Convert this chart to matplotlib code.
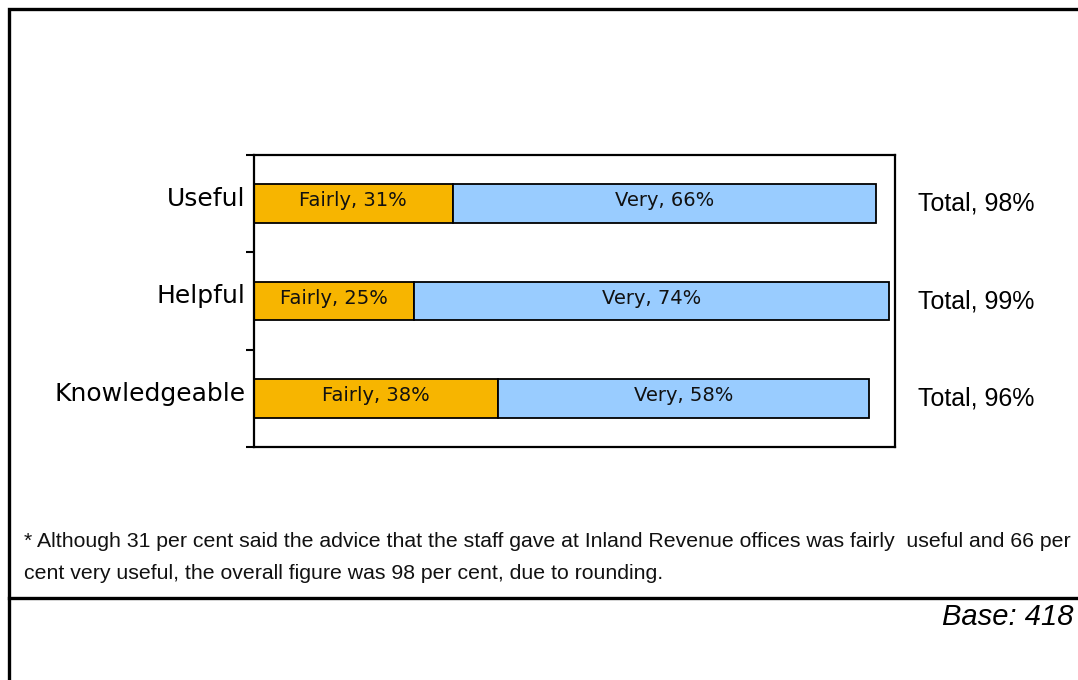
import numpy as np
import matplotlib
matplotlib.use('Agg')
from matplotlib import pyplot as plt
from matplotlib import transforms
from matplotlib.patches import Rectangle
from matplotlib.lines import Line2D

# data
categories = ['Useful', 'Helpful', 'Knowledgeable']
fairly = [31, 25, 38]
very = [66, 74, 58]
totals = [98, 99, 96]
footnote = ('* Although 31 per cent said the advice that the staff gave at Inland Revenue offices was fairly  useful and 66 per\n'
            'cent very useful, the overall figure was 98 per cent, due to rounding.')
base_note = 'Base: 418'

orange = '#F7B500'
blue = '#99CCFF'

fig = plt.figure(figsize=(10.78, 6.8), dpi=100)
W, H = 1078.0, 680.0
ax = fig.add_axes([254 / W, 1 - 447 / H, (895 - 254) / W, (447 - 155) / H])

y = np.arange(len(categories))
ax.barh(y, fairly, height=0.4, color=orange, edgecolor='black', linewidth=1.3)
ax.barh(y, very, left=fairly, height=0.4, color=blue, edgecolor='black', linewidth=1.3)

# small upward nudge for labels, as in the reference
up3 = ax.transData + transforms.ScaledTranslation(0, 3 / 100.0, fig.dpi_scale_trans)
for i in range(len(categories)):
    ax.text(fairly[i] / 2.0, y[i], 'Fairly, %d%%' % fairly[i], ha='center', va='center',
            fontsize=14, family='DejaVu Sans', color='#111111', transform=up3)
    ax.text(fairly[i] + very[i] / 2.0, y[i], 'Very, %d%%' % very[i], ha='center', va='center',
            fontsize=14, family='DejaVu Sans', color='#111111', transform=up3)
    ax.text(103.6, y[i], 'Total, %d%%' % totals[i], ha='left', va='center', fontsize=18,
            family='Liberation Sans', clip_on=False)

ax.set_xlim(0, 100)
ax.set_ylim(len(categories) - 0.5, -0.5)
ax.set_yticks(y)
ax.set_yticklabels(categories, fontsize=18, family='DejaVu Sans')
ax.set_yticks(np.arange(len(categories) + 1) - 0.5, minor=True)
ax.tick_params(axis='y', which='major', length=0, pad=6)
ax.tick_params(axis='y', which='minor', length=6, width=1.5, direction='out')
ax.set_xticks([])
for lab in ax.get_yticklabels():
    lab.set_transform(lab.get_transform() + transforms.ScaledTranslation(0, 7 / 100.0, fig.dpi_scale_trans))
for s in ax.spines.values():
    s.set_linewidth(1.6)

# outer frame and separator line
fig.patches.append(Rectangle((9 / W, -0.1), 1.2, 1 - 9 / H + 0.1, transform=fig.transFigure,
                             fill=False, edgecolor='black', linewidth=2.4))
fig.lines.append(Line2D([9 / W, 1.0], [1 - 598 / H, 1 - 598 / H], transform=fig.transFigure,
                        color='black', linewidth=2.4))

fig.text(24 / W, 1 - 557.5 / H, footnote, ha='left', va='center', fontsize=15.3,
         family='Liberation Sans', linespacing=1.85, color='#111111')
fig.text(1073 / W, 1 - 617 / H, base_note, ha='right', va='center', fontsize=21,
         family='Liberation Sans', style='italic')

fig.savefig('out.png', dpi=100)
